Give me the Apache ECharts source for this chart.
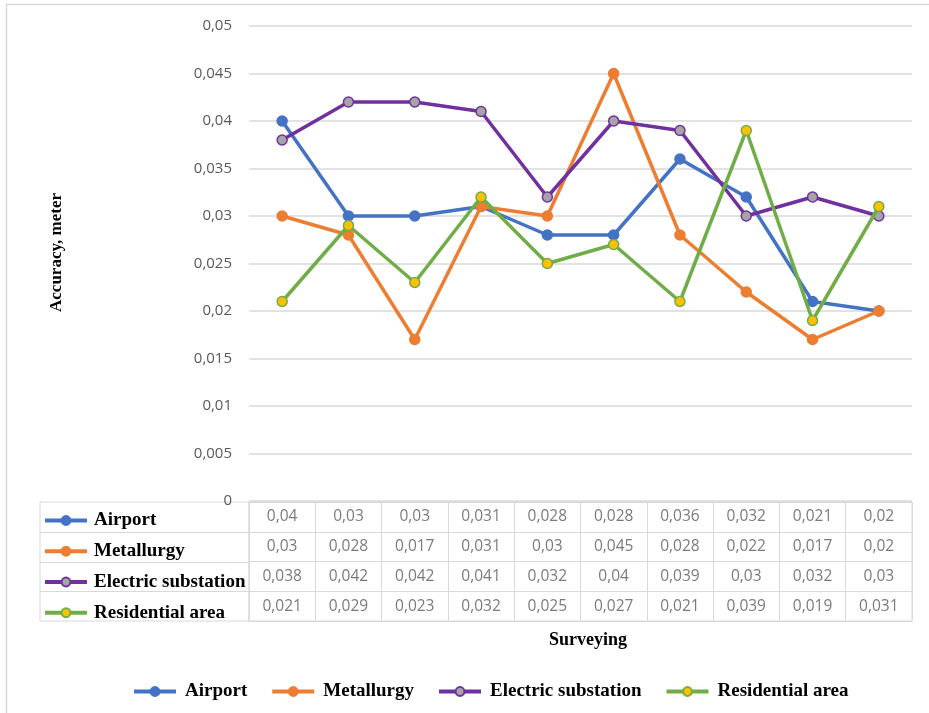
<!DOCTYPE html>
<html>
<head>
<meta charset="utf-8">
<script src="https://cdn.jsdelivr.net/npm/echarts@6/dist/echarts.min.js"></script>
<style>
html,body{margin:0;padding:0;background:#fff;}
#main{width:929px;height:713px;}
</style>
</head>
<body>
<div id="main"></div>
<script>
var categories = ['1','2','3','4','5','6','7','8','9','10'];
var seriesNames = ['Airport','Metallurgy','Electric substation','Residential area'];
var airport = [0.04,0.03,0.03,0.031,0.028,0.028,0.036,0.032,0.021,0.02];
var metallurgy = [0.03,0.028,0.017,0.031,0.03,0.045,0.028,0.022,0.017,0.02];
var electric = [0.038,0.042,0.042,0.041,0.032,0.04,0.039,0.03,0.032,0.03];
var residential = [0.021,0.029,0.023,0.032,0.025,0.027,0.021,0.039,0.019,0.031];
var yTicks = [0,0.005,0.01,0.015,0.02,0.025,0.03,0.035,0.04,0.045,0.05];

var allValues = [airport, metallurgy, electric, residential];
var lineColors = ['#4472C4','#ED7D31','#7030A0','#70AD47'];
var markerColors = ['#4472C4','#ED7D31','#A5A5A5','#FFC000'];

function fmt(v){
  if (v === 0) return '0';
  return String(+v.toFixed(4)).replace('.', ',');
}

var chart = echarts.init(document.getElementById('main'));

var lineSeries = seriesNames.map(function(name, i){
  return {
    name: name,
    type: 'line',
    xAxisIndex: 0,
    yAxisIndex: 0,
    data: allValues[i],
    symbol: 'circle',
    symbolSize: 10,
    lineStyle: {color: lineColors[i], width: 3.5},
    itemStyle: {color: markerColors[i], borderColor: lineColors[i], borderWidth: 1.5},
    emphasis: {disabled: true},
    z: 3 + i
  };
});

var cellData = [];
allValues.forEach(function(arr, r){
  arr.forEach(function(v, c){ cellData.push([c, r, v]); });
});

var legendText = {fontFamily: 'Liberation Serif', fontWeight: 'bold', fontSize: 19, color: '#000'};

var option = {
  animation: false,
  backgroundColor: '#fff',
  grid: [
    {left: 249, right: 17, top: 26, height: 475},
    {left: 249, right: 17, top: 502, height: 119, show: true, borderColor: '#D9D9D9', borderWidth: 1}
  ],
  legend: [
    {
      data: seriesNames, orient: 'horizontal', left: 127, top: 677,
      itemWidth: 42, itemHeight: 11, itemGap: 23,
      lineStyle: {width: 4},
      textStyle: Object.assign({padding: [0, 0, 0, 4]}, legendText), selectedMode: false
    },
    {
      data: seriesNames, orient: 'vertical', left: 38, top: 506,
      itemWidth: 42, itemHeight: 11, itemGap: 11.75,
      lineStyle: {width: 4},
      textStyle: Object.assign({lineHeight: 18, height: 18, padding: [0, 0, 0, 2]}, legendText), selectedMode: false
    }
  ],
  xAxis: [
    {
      type: 'category', gridIndex: 0, data: categories, boundaryGap: true,
      axisLine: {show: false}, axisTick: {show: false}, axisLabel: {show: false}
    },
    {
      type: 'category', gridIndex: 1, data: categories, boundaryGap: true,
      axisLine: {show: false}, axisTick: {show: false}, axisLabel: {show: false},
      splitLine: {show: true, interval: 0, lineStyle: {color: '#D9D9D9', width: 1}}
    }
  ],
  yAxis: [
    {
      type: 'value', gridIndex: 0, min: 0, max: 0.05, interval: 0.005,
      name: 'Accuracy, meter', nameLocation: 'middle', nameGap: 184, nameRotate: 90,
      nameTextStyle: {fontFamily: 'Liberation Serif', fontWeight: 'bold', fontSize: 17, color: '#000', padding: [0,0,0,22]},
      axisLine: {show: false}, axisTick: {show: false},
      axisLabel: {formatter: fmt, fontFamily: 'Open Sans', fontSize: 15, color: '#595959', margin: 17},
      splitLine: {lineStyle: {color: '#D9D9D9', width: 1.5}}
    },
    {
      type: 'category', gridIndex: 1, data: seriesNames, inverse: true,
      axisLine: {show: false}, axisTick: {show: false}, axisLabel: {show: false},
      splitLine: {show: true, interval: 0, lineStyle: {color: '#D9D9D9', width: 1}}
    }
  ],
  series: lineSeries.concat([{
    name: 'table',
    type: 'scatter',
    xAxisIndex: 1, yAxisIndex: 1,
    data: cellData,
    symbolSize: 0,
    silent: true,
    label: {
      show: true, position: 'inside',
      formatter: function(p){ return fmt(p.value[2]); },
      fontFamily: 'Open Sans', fontSize: 15.5, color: '#595959'
    }
  }]),
  graphic: []
};

chart.setOption(option);

// left column of the data table, rows aligned with the table grid rows
var leftX = 40, rightX = 249;
var g = [];
var topY = 502, botY = 621;
g.push({type: 'rect', shape: {x: leftX, y: topY, width: rightX - leftX, height: botY - topY},
        style: {fill: 'none', stroke: '#D9D9D9', lineWidth: 1}, silent: true});
for (var r = 1; r < seriesNames.length; r++) {
  var yA = chart.convertToPixel({yAxisIndex: 1}, seriesNames[r - 1]);
  var yB = chart.convertToPixel({yAxisIndex: 1}, seriesNames[r]);
  var yy = Math.round((yA + yB) / 2) + 0.5;
  g.push({type: 'line', shape: {x1: leftX, y1: yy, x2: rightX, y2: yy},
          style: {stroke: '#D9D9D9', lineWidth: 1}, silent: true});
}
// chart frame
g.push({type: 'rect', shape: {x: 6.5, y: 4.5, width: 940, height: 720},
        style: {fill: 'none', stroke: '#D9D9D9', lineWidth: 1.5}, silent: true, z: -1});
// x-axis title
g.push({type: 'text', x: 588, y: 640,
        style: {text: 'Surveying', fontFamily: 'Liberation Serif', fontWeight: 'bold', fontSize: 18, fill: '#000',
                align: 'center', verticalAlign: 'middle'}});
chart.setOption({graphic: g});
</script>
</body>
</html>
